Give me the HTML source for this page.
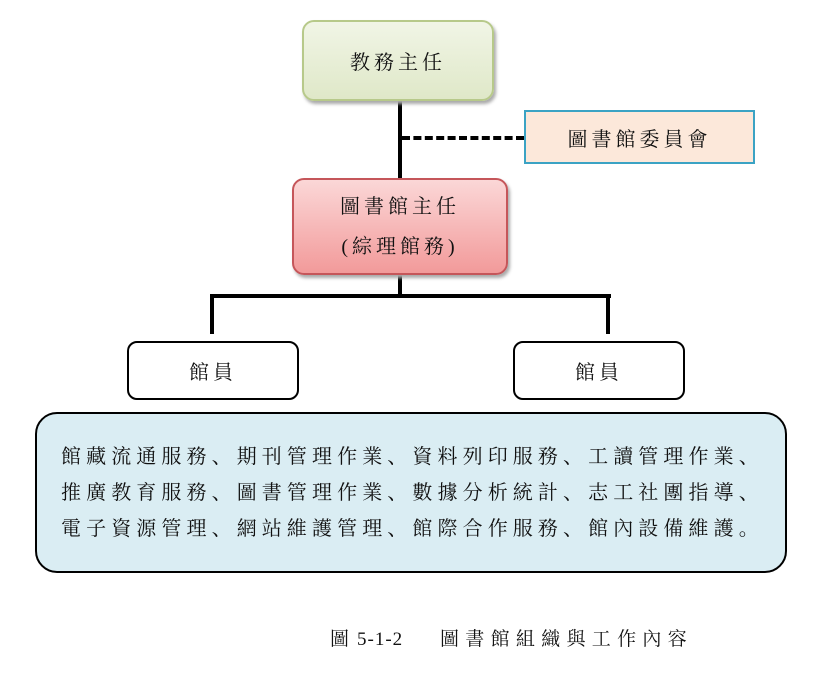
<!DOCTYPE html>
<html><head><meta charset="utf-8"><style>
body{margin:0;width:817px;height:680px;background:#fff;position:relative;overflow:hidden;font-family:"Liberation Serif","Noto Serif CJK SC","Noto Sans CJK TC",serif;color:#111}
.b{position:absolute;box-sizing:border-box;display:flex;align-items:center;justify-content:center;text-align:center;font-size:20px;letter-spacing:4px}
.l{position:absolute;background:#000}
.c{position:absolute;top:0;line-height:24px}
</style></head><body>
<div class="l" style="left:398px;top:100px;width:4px;height:80px"></div>
<div style="position:absolute;left:402px;top:136px;width:122px;border-top:4px dashed #000"></div>
<div class="l" style="left:398px;top:272px;width:4px;height:25px"></div>
<div class="l" style="left:210px;top:294px;width:401px;height:4px"></div>
<div class="l" style="left:210px;top:294px;width:4px;height:40px"></div>
<div class="l" style="left:606px;top:294px;width:4px;height:40px"></div>

<div class="b" style="left:302px;top:20px;width:192px;height:81px;border:2px solid #b7c98a;border-radius:12px;background:linear-gradient(#f1f5e6,#dfe8c8);box-shadow:2px 3px 3px #aaa">教務主任</div>
<div class="b" style="left:524px;top:110px;width:231px;height:54px;border:2px solid #3ba3c4;background:#fce8da">圖書館委員會</div>
<div class="b" style="left:292px;top:178px;width:216px;height:97px;border:2px solid #c5565a;border-radius:12px;background:linear-gradient(#fbd7d7,#f29a9a);box-shadow:2px 3px 3px #aaa;line-height:40px">圖書館主任<br>(綜理館務)</div>
<div class="b" style="left:127px;top:341px;width:172px;height:59px;border:2px solid #000;border-radius:10px;background:#fff">館員</div>
<div class="b" style="left:513px;top:341px;width:172px;height:59px;border:2px solid #000;border-radius:10px;background:#fff">館員</div>
<div class="b" style="left:35px;top:412px;width:752px;height:161px;border:2px solid #000;border-radius:22px;background:#daedf3;font-size:20px;letter-spacing:5.1px;line-height:36px;text-align:left;justify-content:flex-start;padding-left:24px;white-space:nowrap">館藏流通服務、期刊管理作業、資料列印服務、工讀管理作業、<br>推廣教育服務、圖書管理作業、數據分析統計、志工社團指導、<br>電子資源管理、網站維護管理、館際合作服務、館內設備維護。</div>
<div style="position:absolute;left:330px;top:628px;width:400px;height:26px;font-size:19px;white-space:nowrap"><span class="c" style="left:0">圖</span><span class="c" style="left:27px;letter-spacing:1px">5-1-2</span><span class="c" style="left:110px;letter-spacing:6.3px">圖書館組織與工作內容</span></div>
</body></html>
